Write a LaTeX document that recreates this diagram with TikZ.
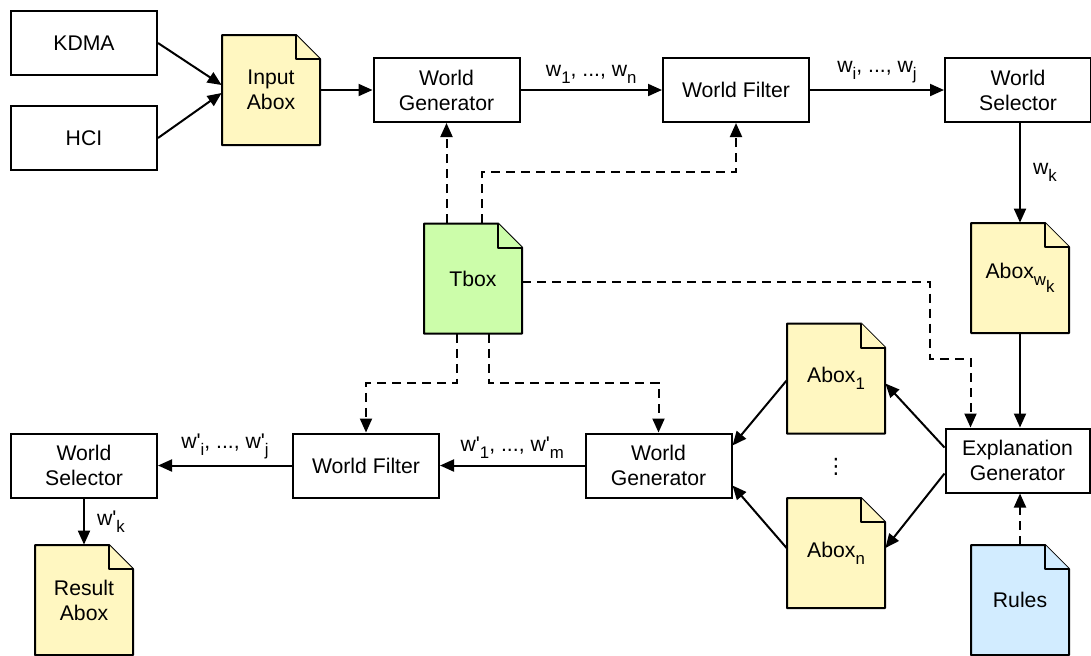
\documentclass[tikz,border=0pt]{standalone}
\usepackage{fontspec}
\setmainfont{Liberation Sans}
\newfontfamily\symfont{DejaVu Sans}
\usetikzlibrary{arrows.meta}
\definecolor{aboxyellow}{RGB}{255,247,193}
\definecolor{tboxgreen}{RGB}{204,253,170}
\definecolor{rulesblue}{RGB}{210,236,255}
\def\prm{\textquotesingle}
\newcommand\sub[1]{\raisebox{-3.5pt}{\fontsize{8.4}{10}\selectfont #1}}
% document shape: name, centre, fill, text
\newcommand\docnode[4]{%
    \draw[docline, fill=#3] (#2) ++(-49,-55) -- ++(74,0) -- ++(24,24) -- ++(0,86) -- ++(-98,0) -- cycle;
    \draw[docline, fill=#3] (#2) ++(25,-55) -- ++(0,24) -- ++(24,0);
    \node[docbox] (#1) at (#2) {#4};
}
\tikzset{
    block/.style={draw, line width=1pt, minimum width=73pt, minimum height=32pt, align=center, inner sep=2pt},
    docbox/.style={minimum width=49pt, minimum height=55pt, align=center, inner sep=0pt},
    docline/.style={line width=1pt, line join=round},
    flow/.style={line width=1pt, -{Triangle[length=7pt,width=6pt]}},
    dflow/.style={flow, dash pattern=on 4.5pt off 3pt},
    lbl/.style={inner sep=2pt}
}

\begin{document}
\begin{tikzpicture}[x=0.5pt, y=-0.5pt, font=\fontsize{10.6}{12.5}\selectfont]
    \useasboundingbox (0,0) rectangle (1091,655);
    % top row
    \node[block] (kdma) at (84,43) {KDMA};
    \node[block] (hci) at (84,138) {HCI};
    \docnode{inabox}{271,90}{aboxyellow}{Input\\Abox}
    \node[block] (wgen) at (446.5,90) {World\\Generator};
    \node[block] (wfilt) at (736,90) {World Filter};
    \node[block] (wsel) at (1018,90) {World\\Selector};
    \docnode{aboxk}{1020,278}{aboxyellow}{Abox\sub{w\sub{k}}}
    \docnode{tbox}{473,278.5}{tboxgreen}{Tbox}
    % explanation part
    \node[block, minimum width=72pt] (expl) at (1017.5,460.5) {Explanation\\Generator};
    \docnode{abox1}{836,378.5}{aboxyellow}{Abox\sub{1}}
    \docnode{aboxn}{836,553}{aboxyellow}{Abox\sub{n}}
    \node[font=\symfont\fontsize{10.6}{12.5}\selectfont] (vdots) at (836,467) {⋮};
    \docnode{rules}{1020,600}{rulesblue}{Rules}
    % bottom row
    \node[block] (wgenb) at (658.5,465.5) {World\\Generator};
    \node[block] (wfiltb) at (366,465.5) {World Filter};
    \node[block] (wselb) at (84,465.5) {World\\Selector};
    \docnode{resabox}{84,600}{aboxyellow}{Result\\Abox}

    \draw[flow] (kdma.east) -- ([yshift=2.5pt]inabox.west);
    \draw[flow] (hci.east) -- ([yshift=-1.5pt]inabox.west);
    \draw[flow] (inabox.east) -- (wgen.west);
    \draw[flow] (wgen.east) -- node[lbl, above=1pt] {w\sub{1}, ..., w\sub{n}} (wfilt.west);
    \draw[flow] (wfilt.east) -- node[lbl, above=1pt] {w\sub{i}, ..., w\sub{j}} (wsel.west);
    \draw[flow] (wsel.south -| aboxk.north) -- node[lbl, right=4pt] {w\sub{k}} (aboxk.north);
    \draw[flow] (aboxk.south) -- (expl.north -| aboxk.south);

    \draw[dflow] (tbox.north -| wgen.south) -- (wgen.south);
    \draw[dflow] ([xshift=4.5pt]tbox.north) -- ++(0,-51) -| (wfilt.south);
    \draw[dflow] ([yshift=-1.5pt]tbox.east) -- ++(408,0) -- ++(0,77) -| ([xshift=-23.5pt]expl.north);
    \draw[dflow] ([xshift=-8pt]tbox.south) -- ++(0,49) -| (wfiltb.north);
    \draw[dflow] ([xshift=8pt]tbox.south) -- ++(0,49) -| (wgenb.north);
    \draw[dflow] (rules.north) -- (expl.south -| rules.north);

    \draw[flow] ([yshift=6.5pt]expl.west) -- ([yshift=-2.5pt]abox1.east);
    \draw[flow] ([yshift=-6.5pt]expl.west) -- ([yshift=2.5pt]aboxn.east);
    \draw[flow] ([yshift=-1pt]abox1.west) -- ([yshift=10pt]wgenb.east);
    \draw[flow] ([yshift=2.5pt]aboxn.west) -- ([yshift=-10pt]wgenb.east);
    \draw[flow] (wgenb.west) -- node[lbl, above=1pt] {w\prm\sub{1}, ..., w\prm\sub{m}} (wfiltb.east);
    \draw[flow] (wfiltb.west) -- node[lbl, above=1pt] {w\prm\sub{i}, ..., w\prm\sub{j}} (wselb.east);
    \draw[flow] (wselb.south) -- node[lbl, right=4pt] {w\prm\sub{k}} (resabox.north);
\end{tikzpicture}
\end{document}
